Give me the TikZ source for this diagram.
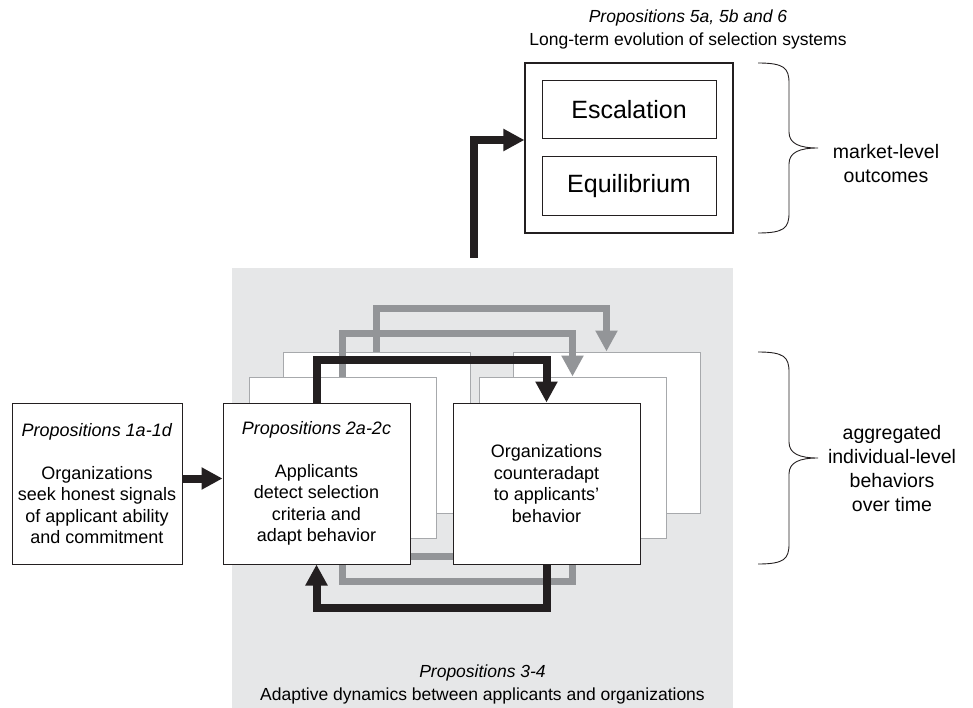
\documentclass[tikz,border=0pt]{standalone}
\usepackage{fontspec}
\setmainfont{Liberation Sans}
\usetikzlibrary{arrows.meta}

\definecolor{panelgrey}{HTML}{E6E7E8}
\definecolor{loopgrey}{HTML}{939598}
\definecolor{ink}{HTML}{231F20}
\definecolor{backline}{HTML}{A7A9AC}

\tikzset{
	box/.style={draw=ink, fill=white, line width=1pt, minimum width=187pt, minimum height=161pt,
		inner sep=0pt, align=center, font=\fontsize{18}{21.5}\selectfont},
	backbox/.style={box, draw=backline},
	outcome/.style={draw=ink, fill=white, line width=1pt, minimum width=174pt, inner sep=0pt,
		font=\fontsize{25}{30}\selectfont},
	flow/.style={draw=ink, line width=8pt, line join=miter, -{Triangle[length=21pt,width=21pt]}},
	greyflow/.style={flow, draw=loopgrey, line width=7pt},
	brace/.style={draw=ink, line width=0.9pt},
	side/.style={align=center, font=\fontsize{19.5}{24}\selectfont},
	caption/.style={align=center, font=\fontsize{17.5}{23}\selectfont},
}

\begin{document}
\begin{tikzpicture}[x=1pt, y=-1pt]
	\useasboundingbox (0,0) rectangle (973,708);
	\fill[panelgrey] (232,268) rectangle (733,708);

	% stacked rounds of adaptation, back to front
	\foreach \n/\dx/\dy in {3/60/51, 2/26/26}{
		\node[backbox] (adapt\n) at (316.5+\dx,483.5-\dy) {};
		\node[backbox] (counter\n) at (546.5+\dx,483.5-\dy) {};
		\draw[greyflow] (adapt\n.north) -- ++(0,-43) -| (counter\n.north);
		\draw[greyflow] (counter\n.south) -- ++(0,43) -| (adapt\n.south);
	}
		\node[box, minimum width=170pt] (signals) at (97,483.5)
			{\textit{Propositions 1a-1d}\\[21.5pt]Organizations\\seek honest signals\\of applicant ability\\and commitment};
		\node[box] (adapt) at (316.5,483.5)
			{\textit{Propositions 2a-2c}\\[21.5pt]Applicants\\detect selection\\criteria and\\adapt behavior};
		\node[box] (counter) at (546.5,483.5)
			{Organizations\\counteradapt\\to applicants'\\behavior};
		\draw[flow] (adapt.north) -- ++(0,-43) -| (counter.north);
		\draw[flow] (counter.south) -- ++(0,43) -| (adapt.south);
		\draw[flow] ([yshift=5pt]signals.east) -- ([yshift=5pt]adapt.west);

	% long-term outcomes
		\node[draw=ink, line width=1.2pt, minimum width=208pt, minimum height=170pt] (outcomes) at (629,148) {};
		\node[outcome, minimum height=58pt] (escal) at (629,110) {Escalation};
		\node[outcome, minimum height=59pt] (equil) at (629,186.5) {Equilibrium};
		\coordinate (rise) at (474,258);
		\draw[flow] (rise) |- ([yshift=8pt]outcomes.west);

		\node[caption] (longterm) at (688,29.5)
			{\textit{Propositions 5a, 5b and 6}\\Long-term evolution of selection systems};
		\node[caption] (dynamics) at (482.5,684.5)
			{\textit{Propositions 3-4}\\Adaptive dynamics between applicants and organizations};

	% braces
	\foreach \t/\b in {63/233, 352/564}{
		\pgfmathsetmacro\m{(\t+\b)/2}
		\draw[brace] (758,\t) .. controls (784,\t) and (789,\t+5) .. (789,\t+20)
			-- (789,\m-16) .. controls (789,\m-4) and (800,\m) .. (818,\m)
			.. controls (800,\m) and (789,\m+4) .. (789,\m+16)
			-- (789,\b-20) .. controls (789,\b-5) and (784,\b) .. (758,\b);
	}
		\node[side] (market) at (886,164) {market-level\\outcomes};
		\node[side] (aggregate) at (892,469) {aggregated\\individual-level\\behaviors\\over time};
\end{tikzpicture}
\end{document}
